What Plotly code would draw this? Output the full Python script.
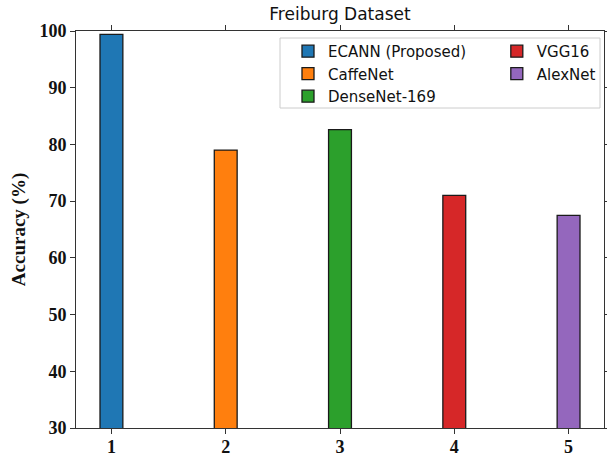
import plotly.graph_objects as go

# Model accuracies on the Freiburg dataset
models = ["ECANN (Proposed)", "CaffeNet", "DenseNet-169", "VGG16", "AlexNet"]
positions = [1, 2, 3, 4, 5]
accuracy = [99.4, 79.0, 82.6, 71.0, 67.5]
colors = ["#1f77b4", "#ff7f0e", "#2ca02c", "#d62728", "#9467bd"]
legend_ids = ["legend", "legend", "legend", "legend2", "legend2"]
y_ticks = [30, 40, 50, 60, 70, 80, 90, 100]

fig = go.Figure()
for name, xpos, acc, col, lg in zip(models, positions, accuracy, colors, legend_ids):
    fig.add_trace(go.Bar(
        x=[xpos], y=[acc], name=name, width=0.2,
        marker=dict(color=col, line=dict(color="#1a1a1a", width=1.3)),
        legend=lg,
    ))

serif = "Liberation Serif, Times New Roman, serif"
tick_font = dict(family=serif, size=18, color="#111", weight="bold")
legend_font = dict(family="DejaVu Sans, sans-serif", size=15, color="#111")

fig.update_layout(
    width=607, height=456,
    margin=dict(l=76, r=3, t=31, b=28),
    paper_bgcolor="white", plot_bgcolor="white",
    barmode="overlay",
    title=dict(text="Freiburg Dataset", x=0.5, xref="paper", xanchor="center",
               y=1 - 14 / 456, yref="container", yanchor="middle",
               font=dict(family="DejaVu Sans, sans-serif", size=17, color="#111")),
    xaxis=dict(range=[0.69, 5.31], tickvals=positions, ticktext=[str(p) for p in positions],
               ticks="outside", ticklen=5, tickwidth=1, tickcolor="#333",
               showline=True, linecolor="#333", linewidth=1, mirror="ticks",
               showgrid=False, zeroline=False, automargin=False,
               ticklabelstandoff=-3,
               tickfont=tick_font),
    yaxis=dict(range=[30, 100], tickvals=y_ticks,
               ticks="outside", ticklen=5, tickwidth=1, tickcolor="#333",
               showline=True, linecolor="#333", linewidth=1, mirror="ticks",
               showgrid=False, zeroline=False, automargin=False,
               tickfont=tick_font,
               title=dict(text="Accuracy (%)", standoff=8,
                          font=dict(family=serif, size=19, color="#111", weight="bold"))),
    legend=dict(x=0.4015, y=0.99, xanchor="left", yanchor="top",
                bgcolor="rgba(0,0,0,0)", borderwidth=0, font=legend_font,
                tracegroupgap=0),
    legend2=dict(x=0.797, y=0.99, xanchor="left", yanchor="top",
                 bgcolor="rgba(0,0,0,0)", borderwidth=0, font=legend_font,
                 tracegroupgap=0),
    showlegend=True,
)

# Frame enclosing both legend columns
fig.add_shape(type="rect", xref="paper", yref="paper",
              x0=(280 - 76) / 528, x1=(600 - 76) / 528,
              y0=(428 - 108) / 397, y1=(428 - 38) / 397,
              line=dict(color="#cccccc", width=1), fillcolor="rgba(255,255,255,0.8)",
              layer="below")

fig.write_html("out.html")
